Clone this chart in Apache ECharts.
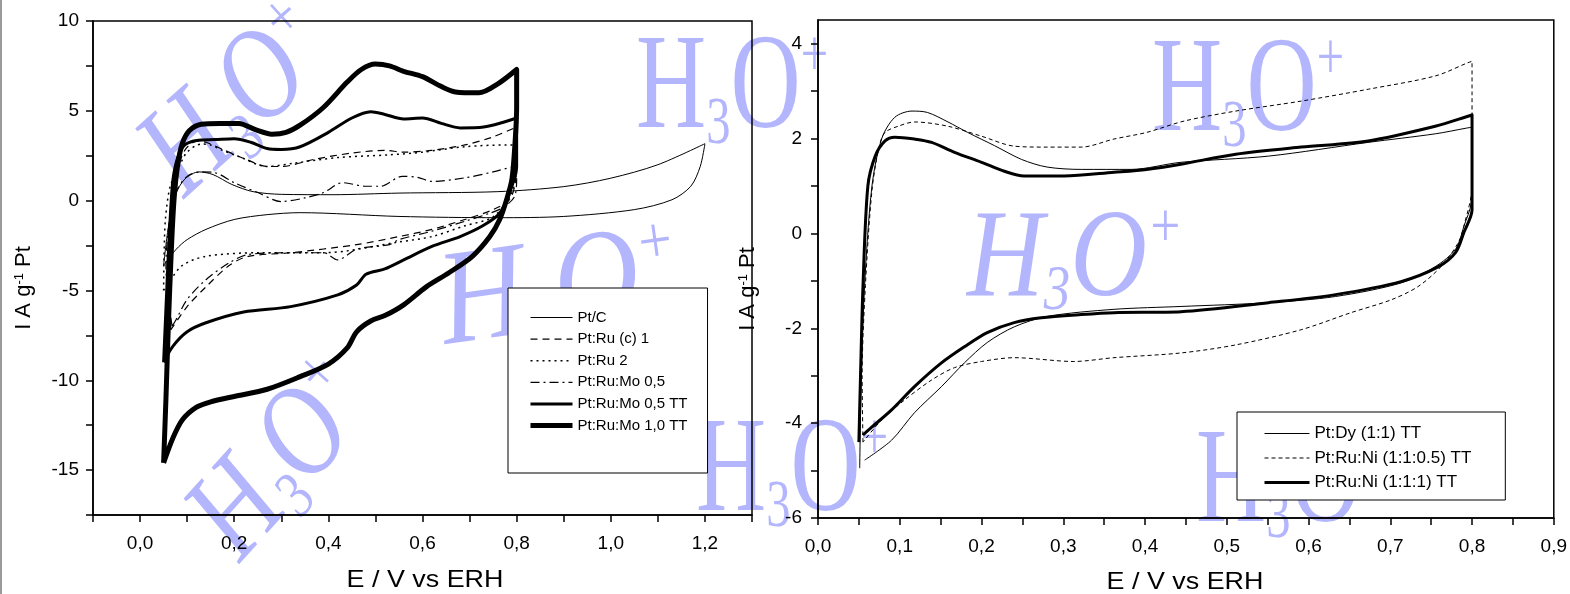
<!DOCTYPE html>
<html>
<head>
<meta charset="utf-8">
<script src="https://cdn.jsdelivr.net/npm/echarts@6/dist/echarts.min.js"></script>
<style>
  html, body { margin: 0; padding: 0; background: #fff; }
  #chart { width: 1570px; height: 594px; }
</style>
</head>
<body>
<div id="chart"></div>
<script>
// ---- Cyclic voltammograms, left panel: [E (V vs ERH), I (A g^-1 Pt)] ----
const ptC = [[0.05,-3.6],[0.06,-1.5],[0.075,0.3],[0.095,1.2],[0.125,1.6],[0.155,1.45],[0.195,0.9],[0.24,0.5],[0.3,0.35],[0.41,0.33],[0.55,0.42],[0.76,0.5],[0.9,0.78],[1.0,1.25],[1.1,2.0],[1.2,3.17],[1.19,1.9],[1.17,0.8],[1.13,0.05],[1.05,-0.5],[0.9,-0.88],[0.76,-0.95],[0.55,-0.88],[0.34,-0.67],[0.27,-0.78],[0.2,-1.05],[0.14,-1.6],[0.1,-2.17],[0.077,-2.7],[0.05,-3.6]];
const ptRuC1 = [[0.065,-7.2],[0.063,-4],[0.068,-1],[0.078,1.5],[0.095,2.8],[0.12,3.3],[0.14,3.25],[0.18,2.8],[0.225,2.3],[0.27,1.9],[0.3,1.9],[0.37,2.3],[0.45,2.65],[0.52,2.8],[0.56,2.7],[0.62,2.8],[0.69,3.1],[0.75,3.55],[0.8,4.1],[0.8,2.5],[0.797,1.0],[0.785,0.05],[0.75,-0.5],[0.69,-1.05],[0.62,-1.6],[0.55,-2.0],[0.46,-2.45],[0.32,-2.9],[0.23,-3.1],[0.19,-3.6],[0.14,-4.8],[0.1,-5.9],[0.065,-7.2]];
const ptRu2 = [[0.05,-5.0],[0.051,-3],[0.054,-1],[0.064,0.8],[0.083,1.9],[0.1,2.7],[0.13,3.15],[0.15,3.1],[0.175,2.8],[0.21,2.45],[0.27,1.9],[0.33,2.1],[0.42,2.4],[0.53,2.55],[0.6,2.7],[0.69,3.0],[0.78,3.1],[0.8,3.1],[0.8,2.0],[0.79,0.45],[0.75,-0.9],[0.69,-1.4],[0.62,-2.0],[0.55,-2.3],[0.39,-2.9],[0.25,-2.9],[0.14,-3.1],[0.09,-3.6],[0.065,-4.4],[0.05,-5.0]];
const ptRuMo05 = [[0.068,-7.0],[0.058,-5.0],[0.055,-3.6],[0.062,-1.2],[0.075,0.4],[0.1,1.35],[0.13,1.6],[0.16,1.55],[0.2,1.0],[0.25,0.45],[0.3,-0.05],[0.35,0.15],[0.39,0.45],[0.43,1.0],[0.48,0.8],[0.51,0.8],[0.557,1.35],[0.59,1.3],[0.62,1.07],[0.69,1.27],[0.75,1.6],[0.8,1.95],[0.8,1.2],[0.795,0.2],[0.77,-0.4],[0.743,-0.7],[0.69,-1.15],[0.62,-1.7],[0.55,-2.17],[0.53,-2.45],[0.46,-2.7],[0.42,-3.3],[0.39,-2.9],[0.32,-2.9],[0.23,-3.0],[0.19,-3.45],[0.14,-4.4],[0.1,-5.5],[0.077,-6.6],[0.068,-7.0]];
const ptRuMo05TT = [[0.05,-9.0],[0.055,-6],[0.06,-3],[0.065,-0.5],[0.07,1.2],[0.08,2.4],[0.095,3.1],[0.12,3.35],[0.16,3.4],[0.2,3.45],[0.235,3.25],[0.27,2.9],[0.3,2.85],[0.34,3.0],[0.4,3.8],[0.45,4.6],[0.49,4.95],[0.52,4.8],[0.56,4.55],[0.6,4.6],[0.64,4.3],[0.68,4.05],[0.73,4.1],[0.77,4.35],[0.8,4.6],[0.8,1.9],[0.785,0.45],[0.764,-0.7],[0.728,-1.4],[0.68,-2.0],[0.62,-2.55],[0.56,-3.3],[0.52,-3.8],[0.48,-4.1],[0.46,-4.7],[0.42,-5.25],[0.32,-5.9],[0.22,-6.2],[0.14,-6.8],[0.1,-7.3],[0.07,-8.1],[0.05,-9.0]];
const ptRuMo10TT = [[0.05,-14.6],[0.055,-11],[0.06,-7],[0.066,-3],[0.072,0],[0.08,2],[0.09,3.2],[0.105,3.9],[0.13,4.25],[0.17,4.3],[0.21,4.3],[0.245,3.95],[0.28,3.7],[0.31,3.8],[0.34,4.2],[0.39,5.2],[0.44,6.6],[0.47,7.3],[0.5,7.6],[0.53,7.5],[0.56,7.2],[0.6,6.9],[0.64,6.35],[0.67,6.05],[0.72,6.0],[0.76,6.5],[0.8,7.3],[0.8,5.2],[0.797,3.4],[0.79,1.2],[0.778,0],[0.764,-1.05],[0.743,-2.0],[0.706,-3.1],[0.657,-4.0],[0.608,-4.8],[0.56,-5.8],[0.52,-6.4],[0.49,-6.7],[0.46,-7.3],[0.44,-8.2],[0.40,-9.1],[0.34,-9.8],[0.27,-10.5],[0.2,-10.9],[0.15,-11.2],[0.12,-11.5],[0.09,-12.2],[0.07,-13.2],[0.05,-14.6]];

// ---- Right panel ----
const ptDy = [[0.051,-4.95],[0.053,-3],[0.057,-1.1],[0.066,1.0],[0.078,2.0],[0.094,2.45],[0.115,2.58],[0.134,2.55],[0.159,2.35],[0.183,2.13],[0.216,1.85],[0.249,1.56],[0.28,1.4],[0.322,1.35],[0.383,1.35],[0.444,1.5],[0.551,1.63],[0.673,1.92],[0.755,2.1],[0.793,2.22],[0.8,2.24],[0.8,1.35],[0.799,0.65],[0.79,0.15],[0.78,-0.33],[0.755,-0.7],[0.714,-1.04],[0.633,-1.33],[0.551,-1.46],[0.444,-1.54],[0.362,-1.6],[0.28,-1.75],[0.24,-1.97],[0.207,-2.3],[0.179,-2.73],[0.151,-3.23],[0.118,-3.78],[0.09,-4.36],[0.057,-4.78]];
const ptRuNi05 = [[0.055,-4.4],[0.054,-3],[0.058,-1.1],[0.066,0.9],[0.075,1.85],[0.082,2.13],[0.098,2.26],[0.118,2.35],[0.159,2.26],[0.2,2.05],[0.24,1.84],[0.28,1.82],[0.322,1.82],[0.362,1.99],[0.402,2.13],[0.448,2.37],[0.511,2.58],[0.591,2.79],[0.673,3.04],[0.755,3.32],[0.795,3.6],[0.8,3.63],[0.8,1.0],[0.79,0.15],[0.783,-0.2],[0.762,-0.7],[0.734,-1.12],[0.701,-1.4],[0.652,-1.67],[0.591,-2.03],[0.511,-2.35],[0.444,-2.52],[0.362,-2.62],[0.313,-2.7],[0.24,-2.62],[0.2,-2.7],[0.167,-2.83],[0.139,-3.09],[0.106,-3.51],[0.078,-3.93],[0.055,-4.4]];
const ptRuNi1 = [[0.05,-4.4],[0.052,-3],[0.055,-1.12],[0.061,1.0],[0.07,1.63],[0.082,1.95],[0.094,2.03],[0.118,1.99],[0.139,1.92],[0.167,1.71],[0.2,1.5],[0.228,1.31],[0.252,1.21],[0.301,1.21],[0.362,1.29],[0.402,1.35],[0.444,1.46],[0.511,1.67],[0.591,1.82],[0.673,1.95],[0.755,2.26],[0.795,2.47],[0.8,2.5],[0.8,1.35],[0.8,0.5],[0.79,0.02],[0.78,-0.4],[0.759,-0.7],[0.714,-1.01],[0.633,-1.29],[0.551,-1.46],[0.444,-1.65],[0.362,-1.67],[0.322,-1.71],[0.273,-1.78],[0.24,-1.88],[0.207,-2.09],[0.179,-2.39],[0.151,-2.73],[0.118,-3.23],[0.09,-3.72],[0.066,-4.08],[0.055,-4.25]];

// ---- Legend names ----
const leftNames = ['Pt/C', 'Pt:Ru (c) 1', 'Pt:Ru 2', 'Pt:Ru:Mo 0,5', 'Pt:Ru:Mo 0,5 TT', 'Pt:Ru:Mo 1,0 TT'];
const rightNames = ['Pt:Dy (1:1) TT', 'Pt:Ru:Ni (1:1:0.5) TT', 'Pt:Ru:Ni (1:1:1) TT'];

// ---- Axis ticks and labels ----
const leftXTicks = [-0.1, 0, 0.1, 0.2, 0.3, 0.4, 0.5, 0.6, 0.7, 0.8, 0.9, 1.0, 1.1, 1.2, 1.3];
const leftXLabels = [0, 0.2, 0.4, 0.6, 0.8, 1.0, 1.2];
const leftYTicks = [-17.5, -15, -12.5, -10, -7.5, -5, -2.5, 0, 2.5, 5, 7.5, 10];
const leftYLabels = [-15, -10, -5, 0, 5, 10];
const rightXTicks = [0, 0.05, 0.1, 0.15, 0.2, 0.25, 0.3, 0.35, 0.4, 0.45, 0.5, 0.55, 0.6, 0.65, 0.7, 0.75, 0.8, 0.85, 0.9];
const rightXLabels = [0, 0.1, 0.2, 0.3, 0.4, 0.5, 0.6, 0.7, 0.8, 0.9];
const rightYTicks = [-6, -5, -4, -3, -2, -1, 0, 1, 2, 3, 4];
const rightYLabels = [-6, -4, -2, 0, 2, 4];

const SANS = '"Liberation Sans", Arial, Helvetica, sans-serif';
const SERIF = '"Liberation Serif", "Times New Roman", serif';
const WM = '#b3b6fd';

const comma = v => v.toFixed(1).replace('.', ',');
const plain = v => String(v);

function valueAxis(gridIndex, min, max, ticks, labels, fmt, margin) {
  return {
    type: 'value', gridIndex, min, max,
    axisLine: { show: true, onZero: false, lineStyle: { color: '#000', width: 1.5 } },
    axisTick: { show: true, inside: false, length: 7, customValues: ticks, lineStyle: { color: '#000', width: 1.5 } },
    axisLabel: { show: true, customValues: labels, formatter: fmt, color: '#000', fontFamily: SANS, fontSize: 19, margin },
    splitLine: { show: false }
  };
}

function curve(name, data, gi, width, type) {
  return {
    name, type: 'line', data, xAxisIndex: gi, yAxisIndex: gi,
    symbol: 'none', showSymbol: false, smooth: 0.3, z: 3,
    lineStyle: { color: '#000', width, type, cap: 'butt', join: 'round' },
    itemStyle: { color: '#000' }, emphasis: { disabled: true }
  };
}

// Decorative H3O+ marks behind the plots
function h3o(x, y, rotDeg, italic, size, sx) {
  const st = italic ? 'italic' : 'normal';
  return {
    type: 'text', x, y, rotation: rotDeg * Math.PI / 180, scaleX: sx, z: -5, silent: true,
    style: {
      text: '{h|H}{s|3}{h|O}{p|+}',
      align: 'center', verticalAlign: 'middle', textAlign: 'center', textVerticalAlign: 'middle',
      rich: {
        h: { fontSize: size, fontFamily: SERIF, fontStyle: st, fill: WM, lineHeight: size },
        s: { fontSize: size * 0.5, fontFamily: SERIF, fontStyle: st, fill: WM, verticalAlign: 'bottom', lineHeight: size * 0.5 },
        p: { fontSize: size * 0.5, fontFamily: SERIF, fontStyle: st, fill: WM, verticalAlign: 'top', lineHeight: size * 0.5 }
      }
    }
  };
}

function yTitle(x, y) {
  return {
    type: 'text', x, y, rotation: Math.PI / 2, z: 10,
    style: {
      text: '{n|I A g}{u|-1}{n| Pt}',
      align: 'center', verticalAlign: 'middle', textAlign: 'center', textVerticalAlign: 'middle',
      rich: {
        n: { fontSize: 22, fontFamily: SANS, fill: '#000' },
        u: { fontSize: 13, fontFamily: SANS, fill: '#000', verticalAlign: 'top' }
      }
    }
  };
}

function xTitle(x, y) {
  return {
    type: 'text', x, y, z: 10, scaleX: 1.12,
    style: { text: 'E / V vs ERH', fontSize: 24, fontFamily: SANS, fill: '#000',
      align: 'center', verticalAlign: 'middle', textAlign: 'center', textVerticalAlign: 'middle' }
  };
}

const leftWidths = [1, 1.2, 1.5, 1.2, 3, 5];
const leftTypes = ['solid', [7, 5], [2, 4], [9, 4, 2, 4], 'solid', 'solid'];
const leftData = [ptC, ptRuC1, ptRu2, ptRuMo05, ptRuMo05TT, ptRuMo10TT];
const rightWidths = [1, 1, 3];
const rightTypes = ['solid', [4, 3], 'solid'];
const rightData = [ptDy, ptRuNi05, ptRuNi1];

const series = [];
leftNames.forEach((n, i) => series.push(curve(n, leftData[i], 0, leftWidths[i], leftTypes[i])));
rightNames.forEach((n, i) => series.push(curve(n, rightData[i], 1, rightWidths[i], rightTypes[i])));

// legend samples show the line only
const noMarker = { color: 'rgba(0,0,0,0)', borderColor: 'rgba(0,0,0,0)', borderWidth: 0, opacity: 0 };

const chart = echarts.init(document.getElementById('chart'), null, { renderer: 'canvas' });
chart.setOption({
  animation: false,
  backgroundColor: '#fff',
  grid: [
    { left: 93, top: 21, width: 659, height: 494, show: true, borderColor: '#000', borderWidth: 1.5, backgroundColor: 'transparent', containLabel: false },
    { left: 818, top: 20, width: 738, height: 498, show: true, borderColor: '#000', borderWidth: 1.5, backgroundColor: 'transparent', containLabel: false }
  ],
  xAxis: [
    valueAxis(0, -0.1, 1.3, leftXTicks, leftXLabels, comma, 19),
    valueAxis(1, 0, 0.9, rightXTicks, rightXLabels, comma, 19)
  ],
  yAxis: [
    valueAxis(0, -17.5, 10, leftYTicks, leftYLabels, plain, 14),
    valueAxis(1, -6, 4.5, rightYTicks, rightYLabels, plain, 16)
  ],
  legend: [
    {
      left: 508, top: 288, orient: 'vertical', padding: [22, 20, 40, 20], itemGap: 6.6,
      itemWidth: 42, itemHeight: 14, backgroundColor: '#fff', borderColor: '#000', borderWidth: 1,
      itemStyle: noMarker,
      textStyle: { fontFamily: SANS, fontSize: 15, color: '#000' }, selectedMode: false, z: 6,
      data: leftNames.map((n, i) => ({ name: n, itemStyle: noMarker, lineStyle: { width: leftWidths[i] } }))
    },
    {
      left: 1237, top: 412, orient: 'vertical', padding: [13, 34, 9, 26], itemGap: 7.5,
      itemWidth: 45, itemHeight: 14, backgroundColor: '#fff', borderColor: '#000', borderWidth: 1,
      itemStyle: noMarker,
      textStyle: { fontFamily: SANS, fontSize: 17, color: '#000' }, selectedMode: false, z: 6,
      data: rightNames.map((n, i) => ({ name: n, itemStyle: noMarker, lineStyle: { width: rightWidths[i] } }))
    }
  ],
  graphic: [
    h3o(240, 103, 42, true, 130, 0.8),
    h3o(732, 92, 0, false, 135, 0.72),
    h3o(1248, 95, 0, false, 135, 0.72),
    h3o(1075, 262, 0, true, 125, 0.85),
    h3o(560, 292, 8, true, 135, 0.88),
    h3o(285, 462, 48, true, 130, 0.8),
    h3o(792, 475, 0, false, 135, 0.72),
    h3o(1292, 486, 0, false, 135, 0.72),
    yTitle(24, 288),
    yTitle(748, 289),
    xTitle(425, 580),
    xTitle(1185, 582),
    { type: 'rect', shape: { x: 0, y: 0, width: 2, height: 594 }, style: { fill: '#9a9a9a' }, z: 20, silent: true }
  ],
  series
});
</script>
</body>
</html>
